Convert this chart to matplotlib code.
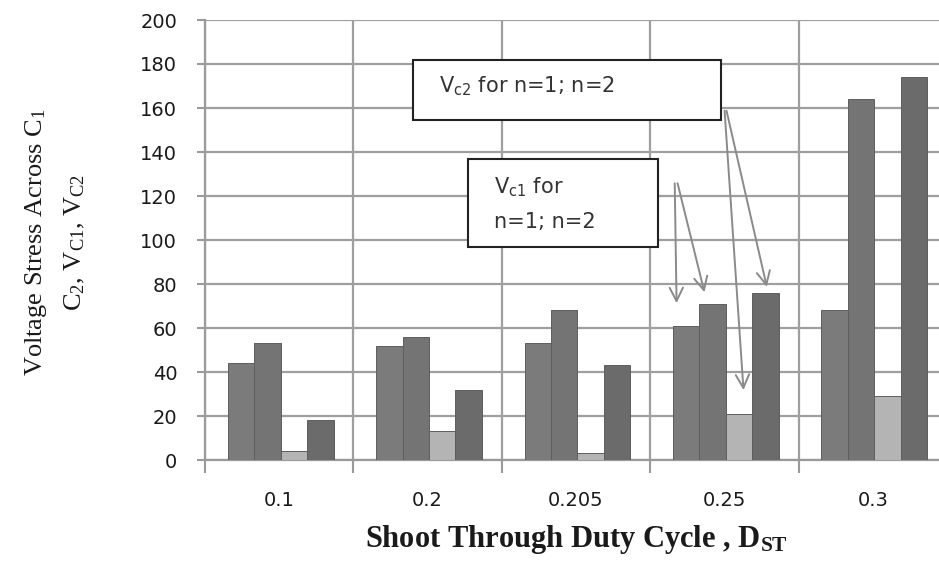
import numpy as np
import matplotlib.pyplot as plt
from matplotlib.patches import Rectangle

plt.rcParams['mathtext.fontset'] = 'custom'
plt.rcParams['mathtext.rm'] = 'Liberation Serif'
plt.rcParams['mathtext.it'] = 'Liberation Serif'
plt.rcParams['mathtext.bf'] = 'Liberation Serif:bold'
plt.rcParams['mathtext.sf'] = 'DejaVu Sans'

# Data
duty_cycles = ['0.1', '0.2', '0.205', '0.25', '0.3']
v_c1_n1 = [44, 52, 53, 61, 68]
v_c1_n2 = [53, 56, 68, 71, 164]
v_c2_n1 = [4, 13, 3, 21, 29]
v_c2_n2 = [18, 32, 43, 76, 174]

series = [v_c1_n1, v_c1_n2, v_c2_n1, v_c2_n2]
colors = ['#7b7b7b', '#747474', '#b4b4b4', '#6b6b6b']

fig = plt.figure(figsize=(9.39, 5.67), dpi=100)
ax = fig.add_axes([205 / 939, 107 / 567, 742 / 939, 440 / 567])

x = np.arange(len(duty_cycles))
w = 0.178
for k, (vals, c) in enumerate(zip(series, colors)):
    ax.bar(x + (k - 1.5) * w + 0.01, vals, width=w, color=c,
           edgecolor='#5e5e5e', linewidth=0.7, zorder=3)

ax.set_xlim(-0.5, 4.5)
ax.set_ylim(0, 200)
ax.set_yticks(np.arange(0, 201, 20))
ax.set_xticks(np.arange(-0.5, 4.6, 1.0))
ax.set_xticklabels([])
ax.set_xticks(x, minor=True)
ax.set_xticklabels(duty_cycles, minor=True)
ax.tick_params(axis='x', which='minor', length=0, pad=22, labelsize=14, labelcolor='#1a1a1a')
ax.tick_params(axis='x', which='major', length=9, width=1.5, color='#9a9a9a')
ax.tick_params(axis='y', length=6, width=1.5, color='#9a9a9a', labelsize=14,
               labelcolor='#1a1a1a', pad=14)

ax.grid(True, color='#9f9f9f', linewidth=1.6, zorder=0)
ax.set_axisbelow(True)
for s in ['top', 'right']:
    ax.spines[s].set_visible(False)
for s in ['left', 'bottom']:
    ax.spines[s].set_color('#9a9a9a')
    ax.spines[s].set_linewidth(1.6)

# axis titles
fig.text(55 / 939, 1 - 242 / 567,
         'Voltage Stress Across C$_{1}$\nC$_{2}$, V$_{C1}$, V$_{C2}$',
         rotation=90, ha='center', va='center', fontsize=19,
         family='Liberation Serif', color='#1a1a1a', linespacing=1.7)
ax.set_xlabel(r'Shoot Through Duty Cycle , D$_{\mathbf{ST}}$', fontsize=22,
              family='Liberation Serif', fontweight='bold', color='#1a1a1a',
              labelpad=10)

# callout boxes
ax.add_patch(Rectangle((0.90, 154.5), 2.08, 27.3, facecolor='white',
                       edgecolor='#222222', linewidth=1.5, zorder=5))
ax.text(1.08, 170, r'V$_{\mathsf{c2}}$ for n=1; n=2', fontsize=15, color='#333333',
        va='center', zorder=6)
ax.add_patch(Rectangle((1.27, 97), 1.28, 40, facecolor='white',
                       edgecolor='#222222', linewidth=1.5, zorder=5))
ax.text(1.45, 116.5, 'V$_{\\mathsf{c1}}$ for\nn=1; n=2', fontsize=15, color='#333333',
        va='center', linespacing=1.9, zorder=6)

arrow = dict(arrowstyle='->', color='#8a8a8a', lw=1.4, mutation_scale=24)
ax.annotate('', xy=(2.678, 70), xytext=(2.665, 127), arrowprops=arrow, zorder=4)
ax.annotate('', xy=(2.87, 75), xytext=(2.68, 127), arrowprops=arrow, zorder=4)
ax.annotate('', xy=(3.13, 30.5), xytext=(3.0, 160), arrowprops=arrow, zorder=4)
ax.annotate('', xy=(3.29, 77.5), xytext=(3.01, 160), arrowprops=arrow, zorder=4)

fig.savefig('out.png', dpi=100)
